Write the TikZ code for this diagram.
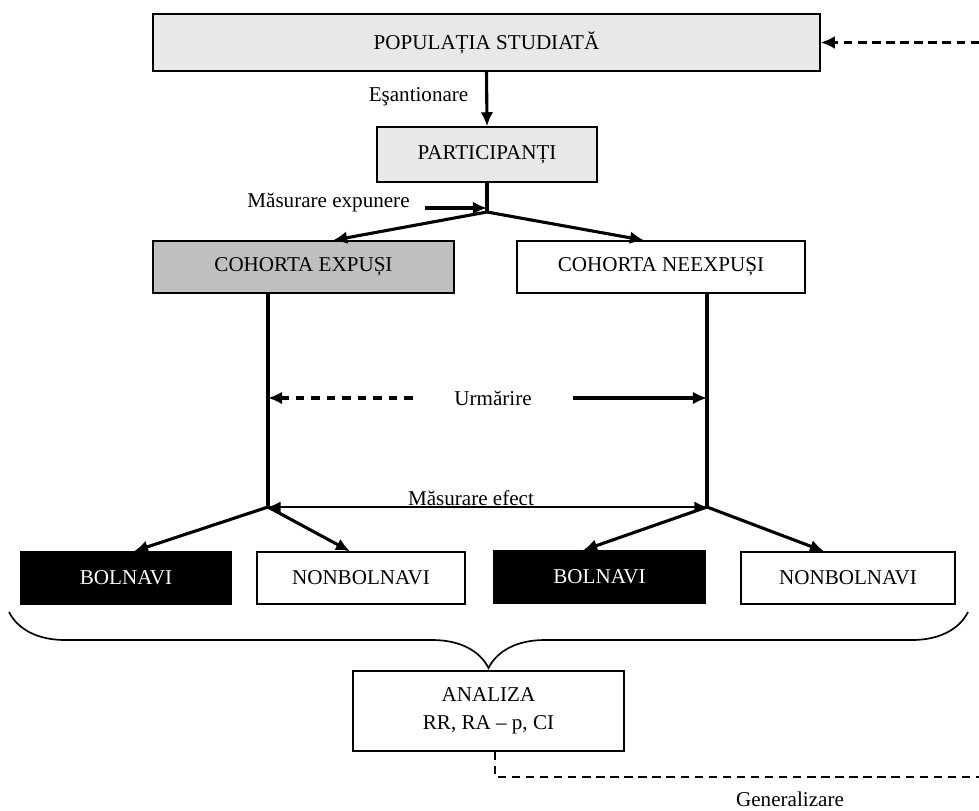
\documentclass[tikz,border=0pt]{standalone}
\usepackage{fontspec}
\setmainfont{Liberation Serif}
\usetikzlibrary{shapes, arrows.meta, positioning, decorations.pathreplacing}
\tikzstyle{box}  = [draw, rectangle, line width=1pt, inner sep=0pt, align=center]
\tikzstyle{arr}  = [draw, line width=2.2pt, -{Latex[length=10pt, width=9pt]}]
\tikzstyle{ln}   = [draw, line width=2.2pt]
\tikzstyle{dsh}  = [draw, line width=1.2pt, dash pattern=on 6pt off 4pt]
\tikzstyle{lbl}  = [inner sep=1pt]

\begin{document}
\begin{tikzpicture}[x=0.025cm, y=-0.025cm, font=\fontsize{15}{20}\selectfont]

\useasboundingbox (0,0) rectangle (979,810);

% nodes
\node [box, fill=black!9, minimum width=16.675cm, minimum height=1.425cm] at (486.5, 42.5) (pop)  {POPULAȚIA STUDIATĂ};
\node [box, fill=black!9, minimum width=5.5cm,    minimum height=1.375cm] at (487  , 154.5) (part) {PARTICIPANȚI};
\node [box, fill=black!25, minimum width=7.525cm, minimum height=1.3cm]   at (303.5, 267 ) (cexp) {COHORTA EXPUȘI};
\node [box, minimum width=7.2cm,   minimum height=1.3cm]                  at (661  , 267 ) (cnex) {COHORTA NEEXPUȘI};
\node [box, fill=black, text=white, minimum width=5.25cm, minimum height=1.3cm] at (126  , 578) (bol1) {BOLNAVI};
\node [box, minimum width=5.2cm,  minimum height=1.3cm]                   at (361  , 578) (nbol1) {NONBOLNAVI};
\node [box, fill=black, text=white, minimum width=5.275cm, minimum height=1.3cm] at (599.5, 577) (bol2) {BOLNAVI};
\node [box, minimum width=5.35cm, minimum height=1.3cm]                   at (848  , 578) (nbol2) {NONBOLNAVI};
\node [box, minimum width=6.775cm, minimum height=2cm]                    at (488.5, 711) (ana)  {ANALIZA\\RR, RA -- p, CI};

% labels
\node [lbl, left]        at (470  , 97 ) (esant) {Eşantionare};
\node [lbl]              at (328.5, 203) (mexp)  {Măsurare expunere};
\node [lbl]              at (493  , 398) (urm)   {Urmărire};
\node [lbl, anchor=base] at (471  , 505) (mef)   {Măsurare efect};
\node [lbl]              at (790  , 799) (gen)   {Generalizare};

% points
\coordinate (j)  at (487, 212);
\coordinate (jl) at (268, 507);
\coordinate (jr) at (707, 507);
\coordinate (tr) at (979, 42.5);
\coordinate (gr) at (979, 777);
\coordinate (bl) at (9  , 612);
\coordinate (br) at (968, 612);

% edges
\draw [dsh, line width=1.6pt, -{Latex[length=10pt, width=9pt]}] (tr) -- (pop.east);
\draw [arr] (pop.south) -- (part.north);
\draw [ln]  (part.south) -- (j);
\draw [arr] ([xshift=0.35cm]mexp.base east) -- (mexp.base -| j);
\draw [arr] (j) -- ([xshift=0.74cm]cexp.north);
\draw [arr] (j) -- ([xshift=-0.425cm]cnex.north);
\draw [ln]  (cexp.south -| jl) -- (jl);
\draw [ln]  (cnex.south -| jr) -- (jr);
\draw [arr, dash pattern=on 6pt off 5pt] ([xshift=-1cm]urm.west) -- (urm.west -| jl);
\draw [arr] ([xshift=1cm]urm.east) -- (urm.east -| jr);
\draw [line width=1.6pt, {Latex[length=9pt, width=8pt]}-{Latex[length=9pt, width=8pt]}] (jl) -- (jr);
\draw [arr] (jl) -- ([xshift=0.2cm]bol1.north);
\draw [arr] (jl) -- ([xshift=-0.275cm]nbol1.north);
\draw [arr] (jr) -- ([xshift=-0.41cm]bol2.north);
\draw [arr] (jr) -- ([xshift=-0.6cm]nbol2.north);
\draw [line width=1.2pt, decorate, decoration={brace, mirror, amplitude=1.4cm}] (bl) -- (br);
\draw [dsh] ([xshift=0.16cm]ana.south) |- (gr);

\end{tikzpicture}
\end{document}
